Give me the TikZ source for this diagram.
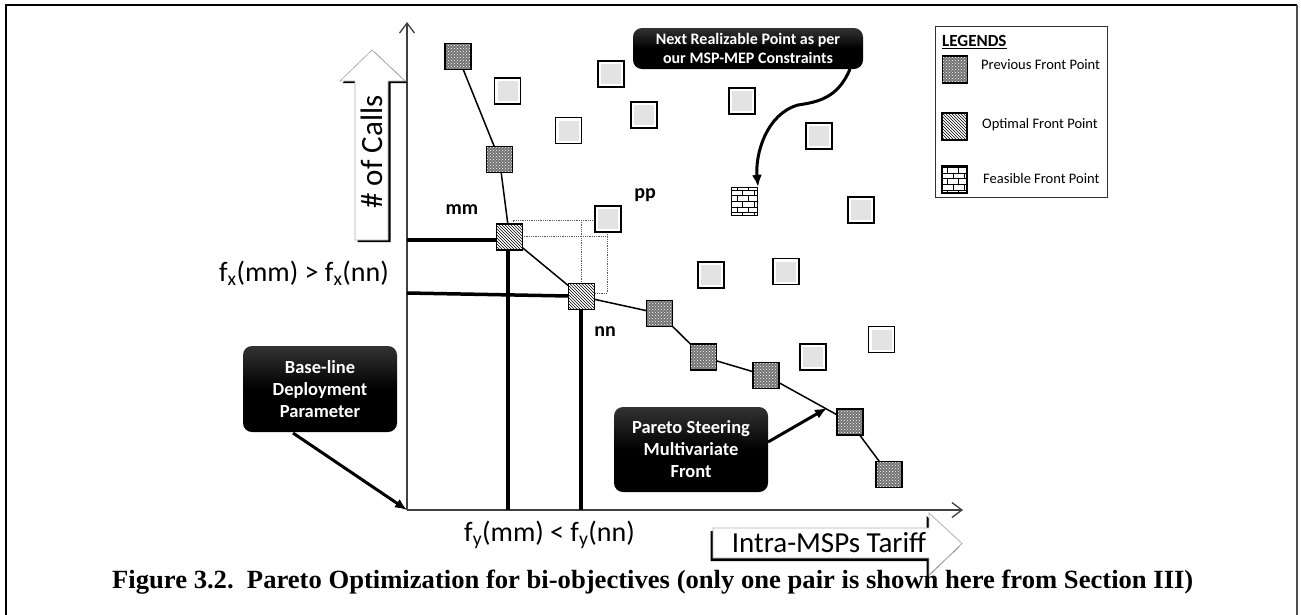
\documentclass[tikz,border=0pt]{standalone}
\usepackage{fontspec}
\setmainfont{Carlito}
\newfontfamily\capfont{Liberation Serif}
\usetikzlibrary{patterns,arrows.meta}
\newcommand{\fsz}[2]{\fontsize{#1}{#2}\selectfont}
\begin{document}
\begin{tikzpicture}[x=1pt,y=-1pt,
  sq/.style={draw=black, line width=1.2pt, minimum width=26pt, minimum height=26pt, inner sep=0pt},
  prevpt/.style={sq, preaction={fill=black!55}, pattern=crosshatch dots, pattern color=white},
  optpt/.style={sq, preaction={fill=white}, pattern=north west lines, pattern color=black},
  feaspt/.style={sq, preaction={fill=white}, pattern=bricks, pattern color=black},
  graypt/.style={sq, line width=1.6pt, fill=white,
     path picture={\fill[gray!22] ([shift={(3pt,-3pt)}]path picture bounding box.north west) rectangle ([shift={(-3pt,3pt)}]path picture bounding box.south east);}},
  frontline/.style={line width=1.5pt, black},
  thickline/.style={line width=3.5pt, black},
  guide/.style={gray!70!black, line width=0.8pt, densely dotted},
  axisline/.style={gray!50!black, line width=1.3pt},
  callout/.style={rounded corners=9pt, top color=black!80, bottom color=black, middle color=black, text=white, align=center, inner sep=0pt, font=\bfseries},
  callarrow/.style={line width=3pt, -{Latex[length=12pt,width=10pt]}},
  ptlabel/.style={font=\bfseries\fsz{20}{24}, inner sep=0pt},
  bigtext/.style={font=\fsz{28}{32}, inner sep=0pt},
  legtext/.style={font=\fsz{14.5}{17}, anchor=west, inner sep=0pt}
]
\useasboundingbox (0,0) rectangle (1301,614);
% frame
\draw[line width=2pt] (6,620) -- (6,5) -- (1297,5);
\draw[gray!60!black, line width=1.4pt] (1297,5) -- (1297,620);

% axes
\coordinate (O) at (407,510);
\coordinate (ytop) at (407,22);
\coordinate (xend) at (963,510);
\draw[axisline, -{Straight Barb[length=10pt,width=15pt]}] (O) -- (ytop);
\draw[axisline, -{Straight Barb[length=10pt,width=15pt]}] (O) -- (xend);

% block arrow: # of Calls
\fill[black] (357.5,242) -- (390.5,242) -- (390.5,83) -- (407.5,83) -- (374.5,52) -- (342.5,83) -- (357.5,83) -- cycle;
\draw[gray!60, fill=white, line width=0.8pt] (355,240) -- (388,240) -- (388,81) -- (405,81) -- (372,50) -- (340,81) -- (355,81) -- cycle;
\node[rotate=90, font=\fsz{31}{36}, inner sep=0pt] (calls) at (372,152) {\# of Calls};

% block arrow: Intra-MSPs Tariff
\fill[black] (710.5,531) -- (926.5,531) -- (926.5,516) -- (959.5,546.5) -- (926.5,578) -- (926.5,561) -- (710.5,561) -- cycle;
\draw[gray!60, fill=white, line width=0.8pt] (713,528) -- (929,528) -- (929,513) -- (962,543.5) -- (929,575) -- (929,558) -- (713,558) -- cycle;
\node[font=\fsz{29}{33}, inner sep=0pt] (tariff) at (829,543) {Intra-MSPs Tariff};

% axis value labels
\node[bigtext] (fx) at (304,273) {f\textsubscript{x}(mm) > f\textsubscript{x}(nn)};
\node[bigtext] (fy) at (549.5,535) {f\textsubscript{y}(mm) < f\textsubscript{y}(nn)};

% coordinates for thick lines
\coordinate (h1a) at (407,240);
\coordinate (h1b) at (497,240);
\coordinate (v1a) at (508,250);
\coordinate (v1b) at (508,510);
\coordinate (h2a) at (407,293);
\coordinate (h2b) at (569,296);
\coordinate (v2a) at (581,310);
\coordinate (v2b) at (581,510);

% guide lines (dotted rectangle)
\coordinate (g1) at (513,224);
\coordinate (g2) at (513,220);
\coordinate (g3) at (595,220);
\coordinate (g4) at (581,220);
\coordinate (g5) at (581,283);
\coordinate (g6) at (522,236);
\coordinate (g7) at (607,236);
\coordinate (g8) at (607,232);
\coordinate (g9) at (607,293);
\coordinate (g10) at (594,293);
\draw[guide] (g1) -- (g2) -- (g3);
\draw[guide] (g4) -- (g5);
\draw[guide] (g6) -- (g7);
\draw[guide] (g8) -- (g9) -- (g10);

\draw[thickline] (h1a) -- (h1b);
\draw[thickline] (v1a) -- (v1b);
\draw[thickline] (h2a) -- (h2b);
\draw[thickline] (v2a) -- (v2b);

% front points
\coordinate (P1c) at (458,56.5);
\coordinate (P2c) at (499.5,159.5);
\coordinate (mmc) at (509.5,237);
\coordinate (nnc) at (581.5,296.5);
\coordinate (P3c) at (659.5,313.5);
\coordinate (P4c) at (703.5,357);
\coordinate (P5c) at (766,375.5);
\coordinate (P6c) at (850,422);
\coordinate (P7c) at (889,474.5);
\draw[frontline] (P1c) -- (P2c) -- (mmc) -- (nnc) -- (P3c) -- (P4c) -- (P5c) -- (P6c) -- (P7c);

\node[prevpt] (P1) at (P1c) {};
\node[prevpt] (P2) at (P2c) {};
\node[optpt] (mm) at (mmc) {};
\node[optpt] (nn) at (nnc) {};
\node[prevpt] (P3) at (P3c) {};
\node[prevpt] (P4) at (P4c) {};
\node[prevpt] (P5) at (P5c) {};
\node[prevpt] (P6) at (P6c) {};
\node[prevpt] (P7) at (P7c) {};

% other (gray) points
\node[graypt] (G1) at (507.5,91) {};
\node[graypt] (G2) at (568.5,130.5) {};
\node[graypt] (G3) at (611,74) {};
\node[graypt] (G4) at (644,115) {};
\node[graypt] (G5) at (742,101) {};
\node[graypt] (G6) at (819,136) {};
\node[graypt] (G7) at (861,210) {};
\node[graypt] (pp) at (608,219) {};
\node[graypt] (G8) at (711,275) {};
\node[graypt] (G9) at (786,271.5) {};
\node[graypt] (G10) at (881.5,339.5) {};
\node[graypt] (G11) at (813,357) {};
\node[feaspt, minimum height=28pt] (F1) at (744.5,201.5) {};

% point labels
\node[ptlabel] (lmm) at (462,210) {mm};
\node[ptlabel] (lpp) at (645,195) {pp};
\node[ptlabel] (lnn) at (605,332) {nn};

% callouts
\node[callout, minimum width=230pt, minimum height=41pt, font=\bfseries\fsz{16}{19}] (next) at (748,48.5) {Next Realizable Point as per\\our MSP-MEP Constraints};
\node[callout, minimum width=154pt, minimum height=86pt, font=\bfseries\fsz{18.5}{22}] (base) at (320,389) {Base-line\\Deployment\\Parameter};
\node[callout, minimum width=154pt, minimum height=85pt, font=\bfseries\fsz{18.5}{22}] (pareto) at (691,449.5) {Pareto Steering\\Multivariate\\Front};

\coordinate (nextfrom) at (850,69);
\coordinate (basefrom) at (293,433);
\coordinate (paretofrom) at (768,442);
\coordinate (paretoto) at (827,408);
\draw[callarrow] (nextfrom) .. controls (838,98) and (818,102) .. (798,105) .. controls (766,114) and (755,155) .. (F1.north east);
\draw[callarrow] (basefrom) -- (O);
\draw[callarrow] (paretofrom) -- (paretoto);

% legend
\node[draw=gray!40!black, line width=1pt, minimum width=172pt, minimum height=171pt, inner sep=0pt] (legend) at (1021,111.5) {};
\node[font=\bfseries\fsz{17}{20}, anchor=west, inner sep=0pt] (legtitle) at (942,42) {\underline{LEGENDS}};
\node[prevpt, minimum width=25pt, minimum height=27pt] (L1) at (955,69.5) {};
\node[optpt, minimum width=25pt, minimum height=27pt] (L2) at (954.5,126.5) {};
\node[feaspt, minimum width=25pt, minimum height=27pt] (L3) at (954.5,179.5) {};
\node[legtext] (L1t) at (981,65) {Previous Front Point};
\node[legtext] (L2t) at (982,125) {Optimal Front Point};
\node[legtext] (L3t) at (983,179) {Feasible Front Point};

% caption
\node[inner sep=0pt, anchor=base west] (caption) at (112,588) {\resizebox{1081pt}{18.5pt}{\capfont\bfseries Figure 3.2.\ \ Pareto Optimization for bi-objectives (only one pair is shown here from Section III)}};
\end{tikzpicture}
\end{document}
